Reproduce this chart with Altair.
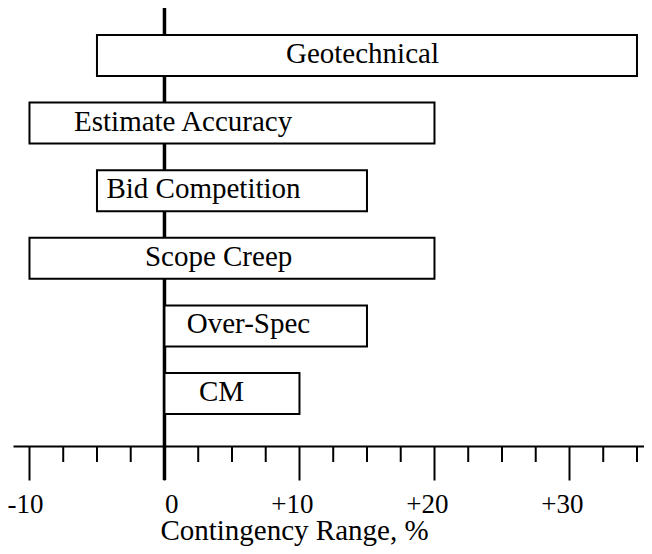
import altair as alt
import pandas as pd

# ---- data ----
factors = ["Geotechnical", "Estimate Accuracy", "Bid Competition",
           "Scope Creep", "Over-Spec", "CM"]
low = [-5, -10, -5, -10, 0, 0]
high = [35, 20, 15, 20, 15, 10]
label_start = [9.0, -6.7, -4.3, -1.45, 1.65, 2.55]
major_ticks = [-10, 0, 10, 20, 30]
minor_ticks = [-7.5, -5, -2.5, 2.5, 5, 7.5, 12.5, 15, 17.5,
               22.5, 25, 27.5, 32.5, 35]
reference_value = [0]
x_domain = [-11.22, 35.52]
axis_title = "Contingency Range, %"

# ---- layout / style ----
W, H = 631, 438
FONT = "Liberation Serif"
FS = 29
TICK_FS = 27
MAJOR = 34
MINOR = 16

df = pd.DataFrame({"factor": factors, "low": low, "high": high,
                   "label_x": label_start})

xs = alt.Scale(domain=x_domain, nice=False, zero=False)
ys = alt.Scale(domain=factors, paddingInner=0.3935, paddingOuter=0.4364,
               align=0.4576, round=False)

x_axis = alt.Axis(
    values=major_ticks, grid=False,
    domainColor="black", domainWidth=2,
    tickColor="black", tickWidth=2, tickSize=MAJOR,
    labelFont=FONT, labelFontSize=TICK_FS, labelColor="black",
    labelExpr="datum.value > 0 ? '+' + datum.value : '' + datum.value",
    labelBaseline="alphabetic", labelPadding=32, labelAlign="right",
    labelOffset=13.5,
    labelFlush=False, labelOverlap=False,
    title=axis_title, titleFont=FONT, titleFontSize=FS, titleFontWeight="normal",
    titleColor="black", titleX=281, titleY=93, titleBaseline="alphabetic",
    titleAlign="center",
)

zero_line = alt.Chart(pd.DataFrame({"v": reference_value})).mark_rule(
    color="black", strokeWidth=3.5
).encode(
    x=alt.X("v:Q", scale=xs, axis=x_axis),
    y=alt.value(0), y2=alt.value(H + MAJOR),
)

minor = alt.Chart(pd.DataFrame({"t": minor_ticks})).mark_rule(
    color="black", strokeWidth=2
).encode(
    x=alt.X("t:Q", scale=xs, axis=x_axis),
    y=alt.value(H), y2=alt.value(H + MINOR),
)

bars = alt.Chart(df).mark_bar(fill="white", stroke="black", strokeWidth=2).encode(
    x=alt.X("low:Q", scale=xs, axis=x_axis),
    x2="high:Q",
    y=alt.Y("factor:N", scale=ys, sort=factors, axis=None),
)

text = alt.Chart(df).mark_text(
    align="left", baseline="alphabetic", dy=7.5, font=FONT, fontSize=FS, color="black"
).encode(
    x=alt.X("label_x:Q", scale=xs, axis=x_axis),
    y=alt.Y("factor:N", scale=ys, sort=factors, axis=None),
    text="factor:N",
)

chart = alt.layer(zero_line, minor, bars, text).properties(
    width=W, height=H,
    autosize=alt.AutoSizeParams(type="none"),
    padding={"left": 5, "top": 0, "right": 0, "bottom": 100},
    background="white",
).configure_view(stroke=None)

chart.save("out.html", embed_options={"renderer": "svg", "actions": False})
